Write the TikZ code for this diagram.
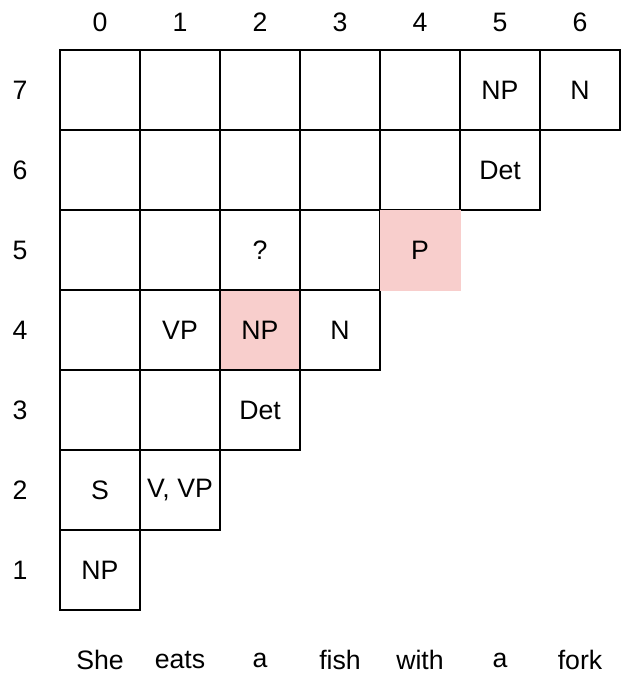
\documentclass[tikz,border=0pt]{standalone}
\usepackage{fontspec}
\setmainfont{Liberation Sans}
\definecolor{pinkfill}{HTML}{F8CECC}
\begin{document}
\begin{tikzpicture}[x=0.75pt,y=-0.75pt,
  every node/.style={font=\fontsize{20}{24}\selectfont, inner sep=0pt},
  cell/.style={draw=black, line width=1.5pt, minimum width=60pt, minimum height=60pt, fill=white},
  hicell/.style={draw=pinkfill, fill=pinkfill, line width=0.75pt, minimum width=59pt, minimum height=59pt},
  lbl/.style={}]
\useasboundingbox (0,0) rectangle (622,681);
% pink cell under neighbours
\node[hicell] (c42) at (260,330) {};
% grid cells: row r, column c < r
\foreach \r in {1,...,7}{
  \pgfmathtruncatemacro{\last}{\r-1}
  \foreach \c in {0,...,\last}{
    \pgfmathsetmacro{\xx}{100+80*\c}
    \pgfmathsetmacro{\yy}{90+80*(7-\r)}
    \ifnum\r=4 \ifnum\c=2 \else
      \node[cell] (c\r\c) at (\xx,\yy) {};
    \fi \else
      \ifnum\r=5 \ifnum\c=4 \else
        \node[cell] (c\r\c) at (\xx,\yy) {};
      \fi \else
        \node[cell] (c\r\c) at (\xx,\yy) {};
      \fi
    \fi
  }
}
\node[hicell, minimum width=60pt, minimum height=60pt] (c54) at (420,250) {P};
\node at (c42) {NP};
% cell texts
\node at (c75) {NP};
\node at (c76) {N};
\node at (c65) {Det};
\node at (c52) {?};
\node at (c41) {VP};
\node at (c43) {N};
\node at (c32) {Det};
\node at (c20) {S};
\node at (c21) {V, VP};
\node at (c10) {NP};
% column labels
\foreach \c in {0,...,6}{
  \node[lbl] (col\c) at ({100+80*\c},22) {\c};
}
% row labels
\foreach \r in {1,...,7}{
  \pgfmathsetmacro{\ry}{90+80*(7-\r)}
  \node[lbl] (row\r) at (20,\ry) {\r};
}
% words
\node[lbl] (w0) at (100,660) {She};
\node[lbl] (w1) at (180,660) {eats};
\node[lbl] (w2) at (260,660) {a};
\node[lbl] (w3) at (340,660) {fish};
\node[lbl] (w4) at (420,660) {with};
\node[lbl] (w5) at (500,660) {a};
\node[lbl] (w6) at (580,660) {fork};
\end{tikzpicture}
\end{document}
